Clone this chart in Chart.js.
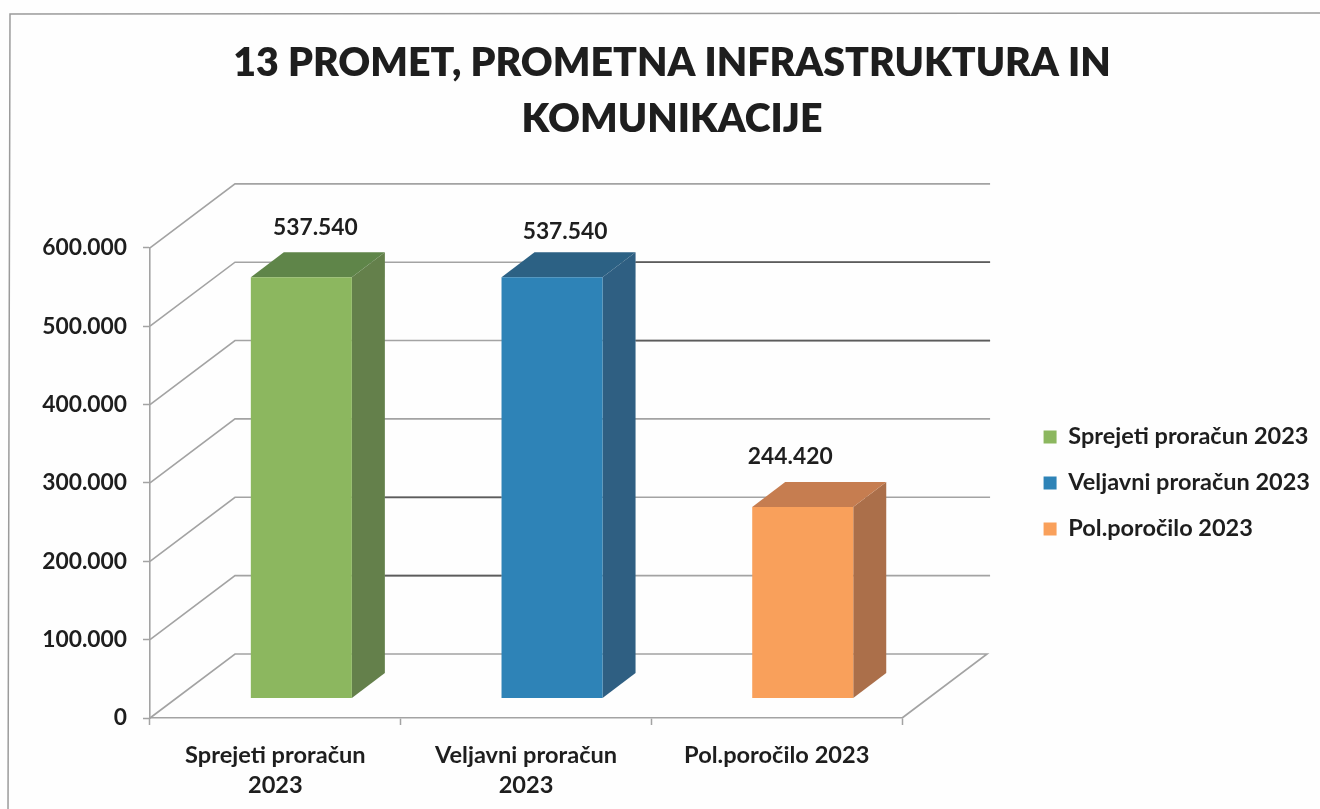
<!DOCTYPE html>
<html>
<head>
<meta charset="utf-8">
<style>html,body{margin:0;padding:0;background:#fff}canvas{display:block}</style>
<script src="https://cdn.jsdelivr.net/npm/chart.js@4"></script>
</head>
<body>
<canvas id="c" width="1320" height="809"></canvas>
<script>
const categories = [['Sprejeti proračun','2023'],['Veljavni proračun','2023'],'Pol.poročilo 2023'];
const seriesNames = ['Sprejeti proračun 2023','Veljavni proračun 2023','Pol.poročilo 2023'];
const sprejeti = [537540,null,null];
const veljavni = [null,537540,null];
const porocilo = [null,null,244420];
const titleLines = ['13 PROMET, PROMETNA INFRASTRUKTURA IN','KOMUNIKACIJE'];
const yTickStep = 100000;
const yTickMax = 600000;

const FONT = 'Lato, Carlito, "Open Sans", sans-serif';
const TEXT = '#1e1e1e';
const GRID = '#a3a3a3';
const DARK = '#5c5c5c';
const wall = {dx:85, dy:-64, rightExtra:3};
const bar3d = {shiftX:26, shiftY:-19.5, dx:33, dy:-25};
const faces = [
  {front:'#8cb75f', side:'#64804b', top:'#5f8549'},
  {front:'#2e83b7', side:'#2f5f82', top:'#2c6184'},
  {front:'#f9a05b', side:'#ab6f4a', top:'#c67d50'}
];
const labelOffsets = [[40,-69],[39,-65],[13.5,-70]];
const fmt = v => String(v).replace(/\B(?=(\d{3})+$)/g,'.');

const scene = {
  id:'scene',
  beforeDraw(chart){
    const c = chart.ctx;
    c.save();
    c.fillStyle='#fefefe';
    c.fillRect(0,0,chart.width,chart.height);
    c.strokeStyle='#9b9b9b';
    c.lineWidth=1.5;
    c.beginPath();
    c.moveTo(8,809);c.lineTo(10,14);c.lineTo(1320,13);
    c.stroke();
    c.restore();
  },
  beforeDatasetsDraw(chart){
    const c = chart.ctx, {x,y} = chart.scales, a = chart.chartArea;
    const meta = chart.getDatasetMeta(0).data[0], meta2 = chart.getDatasetMeta(1).data[1];
    const end = a.right + wall.dx + wall.rightExtra;
    c.save();
    c.lineWidth=1.6;
    c.strokeStyle=GRID;
    y.ticks.forEach(t=>{
      const py=y.getPixelForValue(t.value);
      c.beginPath();
      c.moveTo(a.left,py);
      c.lineTo(a.left+wall.dx,py+wall.dy);
      c.lineTo(t.value===0? a.right+wall.dx : end,py+wall.dy);
      if(t.value===0) c.lineTo(a.right,py);
      c.stroke();
    });
    c.strokeStyle=DARK;
    c.lineWidth=1.8;
    const barRight = el => el.x+el.width/2+bar3d.shiftX+bar3d.dx;
    const barLeft = el => el.x-el.width/2+bar3d.shiftX;
    [500000,400000].forEach(v=>{
      const py=y.getPixelForValue(v)+wall.dy;
      c.beginPath();c.moveTo(barRight(meta2),py);c.lineTo(end,py);c.stroke();
    });
    [200000,100000].forEach(v=>{
      const py=y.getPixelForValue(v)+wall.dy;
      c.beginPath();c.moveTo(barRight(meta),py);c.lineTo(barLeft(meta2),py);c.stroke();
    });
    c.restore();
  },
  beforeDatasetDraw(chart,args){
    const c = chart.ctx, f = faces[args.index];
    c.save();
    c.translate(bar3d.shiftX,bar3d.shiftY);
    args.meta.data.forEach((el,i)=>{
      if(chart.data.datasets[args.index].data[i]==null) return;
      const l=el.x-el.width/2,r=el.x+el.width/2,t=el.y,b=el.base;
      c.fillStyle=f.side;
      c.beginPath();c.moveTo(r,t);c.lineTo(r+bar3d.dx,t+bar3d.dy);c.lineTo(r+bar3d.dx,b+bar3d.dy);c.lineTo(r,b);c.closePath();c.fill();
      c.fillStyle=f.top;
      c.beginPath();c.moveTo(l,t);c.lineTo(l+bar3d.dx,t+bar3d.dy);c.lineTo(r+bar3d.dx,t+bar3d.dy);c.lineTo(r,t);c.closePath();c.fill();
    });
  },
  afterDatasetDraw(chart){ chart.ctx.restore(); },
  afterDatasetsDraw(chart){
    const c = chart.ctx;
    c.save();
    c.font='bold 22.8px '+FONT;
    c.fillStyle=TEXT;
    c.textAlign='center';
    c.textBaseline='middle';
    chart.data.datasets.forEach((ds,k)=>{
      chart.getDatasetMeta(k).data.forEach((el,i)=>{
        if(ds.data[i]==null) return;
        c.fillText(fmt(ds.data[i]),el.x+labelOffsets[i][0],el.y+labelOffsets[i][1]);
      });
    });
    c.restore();
  }
};

const colors = faces.map(f=>f.front);
new Chart(document.getElementById('c'),{
  type:'bar',
  data:{
    labels:categories,
    datasets:[sprejeti,veljavni,porocilo].map((d,i)=>({
      label:seriesNames[i],data:d,backgroundColor:colors[i],clip:false,
      barPercentage:0.403,categoryPercentage:1
    }))
  },
  options:{
    responsive:false,
    animation:false,
    layout:{padding:{left:24,top:36,right:0,bottom:0}},
    scales:{
      x:{
        stacked:true,
        grid:{drawOnChartArea:false,color:GRID,tickLength:7,tickWidth:1.5},
        border:{color:GRID,width:1.6},
        ticks:{color:TEXT,font:{family:FONT,size:23.6,weight:'bold',lineHeight:1.27},padding:15,maxRotation:0,autoSkip:false},
        afterFit(s){s.height=91;}
      },
      y:{
        stacked:true,
        min:0,max:yTickMax,
        grid:{drawOnChartArea:false,color:GRID,tickLength:7,tickWidth:1.5},
        border:{color:GRID,width:1.6},
        ticks:{stepSize:yTickStep,color:TEXT,font:{family:FONT,size:22.8,weight:'bold'},padding:16,callback:v=>fmt(v)},
        afterFit(s){s.width=126;}
      },
      spacer:{
        position:'right',
        display:true,
        grid:{display:false},
        border:{display:false},
        ticks:{display:false},
        afterFit(s){s.width=119;}
      }
    },
    plugins:{
      title:{
        display:true,
        text:titleLines,
        color:TEXT,
        font:{family:FONT,size:39.3,weight:'800',lineHeight:1.41},
        padding:{top:0,bottom:101}
      },
      legend:{
        position:'right',
        fullSize:false,
        maxWidth:320,
        labels:{
          boxWidth:13,boxHeight:13,padding:22.5,color:TEXT,
          font:{family:FONT,size:23.5,weight:'bold'}
        }
      },
      tooltip:{enabled:false}
    }
  },
  plugins:[scene]
});
</script>
</body>
</html>
